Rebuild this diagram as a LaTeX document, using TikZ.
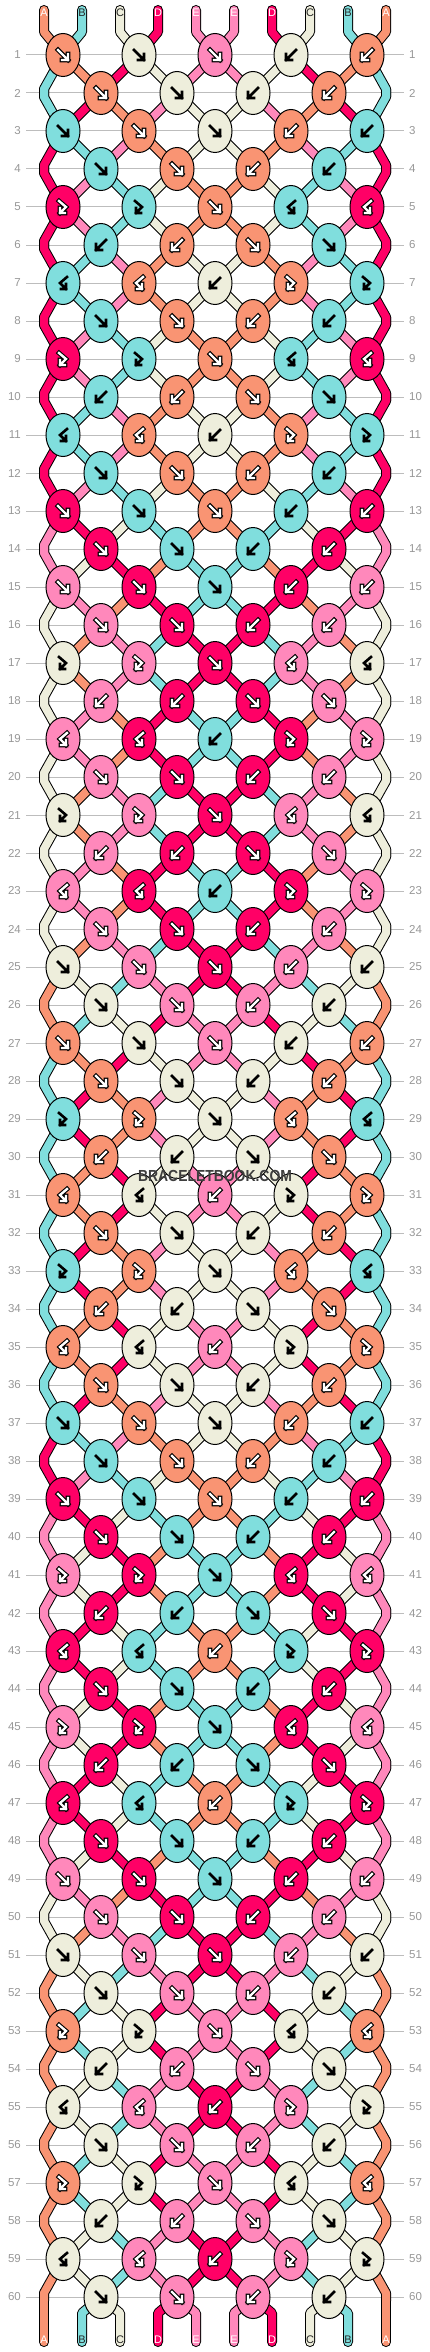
\documentclass[tikz,border=0pt]{standalone}
\usepackage{fontspec}
\setmainfont{Liberation Sans}
\usetikzlibrary{shapes.geometric}

\definecolor{colA}{HTML}{F99473}
\definecolor{colB}{HTML}{80DEDD}
\definecolor{colC}{HTML}{EEEEDC}
\definecolor{colD}{HTML}{FF0066}
\definecolor{colE}{HTML}{FF88BB}
\definecolor{rulegray}{HTML}{BDBDBD}
\definecolor{numgray}{HTML}{979797}
\definecolor{brandgray}{HTML}{3E3E3E}

% letter colour on each thread
\def\letterA{white}\def\letterB{black!85}\def\letterC{black!85}\def\letterD{white}\def\letterE{white}

\tikzset{
  knot/.style={ellipse, draw=black, line width=1pt, minimum width=34pt, minimum height=43pt, inner sep=0pt},
  strandedge/.style={draw=black, line width=10pt, line cap=round, line join=round},
  strand/.style={line width=8pt, line cap=round, line join=round},
  rowrule/.style={draw=rulegray, line width=1pt},
  rownum/.style={text=numgray, inner sep=0pt, font=\fontsize{11.5}{12}\selectfont},
  endletter/.style={inner sep=0pt, font=\fontsize{11}{11}\selectfont},
  brand/.style={text=brandgray, inner sep=0pt, font=\bfseries\fontsize{16}{16}\selectfont},
  rim/.style={draw=none},
  ink/.style={draw=black, line width=2.6pt, line cap=rect, line join=miter},
  darkarrow/.style={rim/.style={draw=black, line width=4.6pt, line cap=rect, line join=miter},
                    ink/.style={draw=white, line width=2.4pt, line cap=rect, line join=miter}},
  lightarrow/.style={},
  arrowsetA/.style={darkarrow}, arrowsetB/.style={lightarrow}, arrowsetC/.style={lightarrow},
  arrowsetD/.style={darkarrow}, arrowsetE/.style={darkarrow},
  % forward, backward, forward-backward, backward-forward
  pics/arrF/.style={code={
    \draw[rim] (-5,-5) -- (5,5) (-1,5) -- (5,5) -- (5,-1);
    \draw[ink] (-5,-5) -- (5,5) (-1,5) -- (5,5) -- (5,-1);}},
  pics/arrB/.style={code={
    \draw[rim] (5,-5) -- (-5,5) (1,5) -- (-5,5) -- (-5,-1);
    \draw[ink] (5,-5) -- (-5,5) (1,5) -- (-5,5) -- (-5,-1);}},
  pics/arrX/.style={code={
    \draw[rim] (-4,-6) -- (3,0) -- (-3,6) (-3,1) -- (-3,6) -- (2,6);
    \draw[ink] (-4,-6) -- (3,0) -- (-3,6) (-3,1) -- (-3,6) -- (2,6);}},
  pics/arrY/.style={code={
    \draw[rim] (4,-6) -- (-3,0) -- (3,6) (3,1) -- (3,6) -- (-2,6);
    \draw[ink] (4,-6) -- (-3,0) -- (3,6) (3,1) -- (3,6) -- (-2,6);}},
}

% knots of each row, left to right
\newcommand\knotrows{1/{F,F,F,B,B}, 2/{F,F,B,B}, 3/{F,F,F,B,B}, 4/{F,F,B,B},
  5/{X,X,F,Y,Y}, 6/{B,B,F,F}, 7/{Y,Y,B,X,X}, 8/{F,F,B,B}, 9/{X,X,F,Y,Y}, 10/{B,B,F,F},
  11/{Y,Y,B,X,X}, 12/{F,F,B,B}, 13/{F,F,F,B,B}, 14/{F,F,B,B}, 15/{F,F,F,B,B}, 16/{F,F,B,B},
  17/{X,X,F,Y,Y}, 18/{B,B,F,F}, 19/{Y,Y,B,X,X}, 20/{F,F,B,B}, 21/{X,X,F,Y,Y}, 22/{B,B,F,F},
  23/{Y,Y,B,X,X}, 24/{F,F,B,B}, 25/{F,F,F,B,B}, 26/{F,F,B,B}, 27/{F,F,F,B,B}, 28/{F,F,B,B},
  29/{X,X,F,Y,Y}, 30/{B,B,F,F}, 31/{Y,Y,B,X,X}, 32/{F,F,B,B}, 33/{X,X,F,Y,Y}, 34/{B,B,F,F},
  35/{Y,Y,B,X,X}, 36/{F,F,B,B}, 37/{F,F,F,B,B}, 38/{F,F,B,B}, 39/{F,F,F,B,B}, 40/{F,F,B,B},
  41/{X,X,F,Y,Y}, 42/{B,B,F,F}, 43/{Y,Y,B,X,X}, 44/{F,F,B,B}, 45/{X,X,F,Y,Y}, 46/{B,B,F,F},
  47/{Y,Y,B,X,X}, 48/{F,F,B,B}, 49/{F,F,F,B,B}, 50/{F,F,B,B}, 51/{F,F,F,B,B}, 52/{F,F,B,B},
  53/{X,X,F,Y,Y}, 54/{B,B,F,F}, 55/{Y,Y,B,X,X}, 56/{F,F,B,B}, 57/{X,X,F,Y,Y}, 58/{B,B,F,F},
  59/{Y,Y,B,X,X}, 60/{F,F,B,B}}

\newcommand\resetthreads{%
  \foreach \i/\lt in {1/A,2/B,3/C,4/D,5/E,6/E,7/D,8/C,9/B,10/A}{%
    \expandafter\xdef\csname s\i\endcsname{\lt}}}

% where thread #2 sits in row #1: \ptin and \ptout
\newcommand\strandpt[2]{%
  \ifnum#1=0 \edef\ptin{T-#2-in}\edef\ptout{T-#2-out}%
  \else\ifnum#1=61 \edef\ptin{U-#2-in}\edef\ptout{U-#2-out}%
  \else\ifodd#1 \pgfmathtruncatemacro\ptk{(#2+1)/2}\edef\ptin{K-#1-\ptk.center}\let\ptout\ptin
  \else\ifnum#2=1 \edef\ptin{P-#1-#2-in}\edef\ptout{P-#1-#2-out}%
  \else\ifnum#2=10 \edef\ptin{P-#1-#2-in}\edef\ptout{P-#1-#2-out}%
  \else \pgfmathtruncatemacro\ptk{#2/2}\edef\ptin{K-#1-\ptk.center}\let\ptout\ptin
  \fi\fi\fi\fi\fi}

% thread #4 from row #2 to row #3, in look #1
\newcommand\drawstrand[4]{%
  \strandpt{#2}{#4}\let\na\ptin\let\nb\ptout
  \strandpt{#3}{#4}%
  \edef\strandcmd{%
    \noexpand\draw[draw=col\csname s#4\endcsname, #1] (\na) -- (\nb) -- (\ptin) -- (\ptout);}%
  \strandcmd}

\newcommand\knotpos{%
  \ifodd\r
    \pgfmathtruncatemacro\posL{2*\k-1}\pgfmathtruncatemacro\kx{63+76*(\k-1)}%
  \else
    \pgfmathtruncatemacro\posL{2*\k}\pgfmathtruncatemacro\kx{101+76*(\k-1)}%
  \fi
  \pgfmathtruncatemacro\posR{\posL+1}%
  \edef\colL{\csname s\posL\endcsname}\edef\colR{\csname s\posR\endcsname}}

\newcommand\swapstrands{%
  \expandafter\xdef\csname s\posL\endcsname{\colR}%
  \expandafter\xdef\csname s\posR\endcsname{\colL}}

\begin{document}
\begin{tikzpicture}[x=1pt, y=-1pt]
\useasboundingbox (0,0) rectangle (430,2352);

% row numbers and rules
\foreach \r in {1,...,60}{
  \pgfmathtruncatemacro\yy{55+38*(\r-1)}
  \node[rownum, anchor=east] (numL-\r) at (21,\yy) {\r};
  \node[rownum, anchor=west] (numR-\r) at (409,\yy) {\r};
  \draw[rowrule] ([xshift=5pt]numL-\r.east) -- ([xshift=-5pt]numR-\r.west);
}

% ends of the threads
\foreach \i in {1,...,10}{
  \coordinate (T-\i-in) at ({44+38*(\i-1)},10);
  \coordinate (T-\i-out) at ({44+38*(\i-1)},32);
  \coordinate (U-\i-in) at ({44+38*(\i-1)},2313);
  \coordinate (U-\i-out) at ({44+38*(\i-1)},2342);
}

% knot places and edge turns
\foreach \r/\spec in \knotrows{
  \pgfmathtruncatemacro\yy{55+38*(\r-1)}
  \ifodd\r\else
    \coordinate (P-\r-1-in) at (44,\yy-4);
    \coordinate (P-\r-1-out) at (44,\yy+4);
    \coordinate (P-\r-10-in) at (386,\yy-4);
    \coordinate (P-\r-10-out) at (386,\yy+4);
  \fi
  \foreach \kt [count=\k] in \spec{
    \ifodd\r\pgfmathtruncatemacro\kx{63+76*(\k-1)}\else\pgfmathtruncatemacro\kx{101+76*(\k-1)}\fi
    \coordinate (K-\r-\k) at (\kx,\yy);
  }
}

% threads: outline first, then colour
\foreach \look in {strandedge,strand}{
  \resetthreads
  \foreach \r/\spec in \knotrows{
    \pgfmathtruncatemacro\prevrow{\r-1}
    \foreach \i in {1,...,10}{\drawstrand{\look}{\prevrow}{\r}{\i}}
    \foreach \kt [count=\k] in \spec{
      \knotpos
      \if\kt F\swapstrands\fi
      \if\kt B\swapstrands\fi
    }
  }
  \foreach \i in {1,...,10}{\drawstrand{\look}{60}{61}{\i}}
}

% knots
\resetthreads
\foreach \r/\spec in \knotrows{
  \pgfmathtruncatemacro\yy{55+38*(\r-1)}
  \foreach \kt [count=\k] in \spec{
    \knotpos
    \let\kc\colL
    \if\kt B\let\kc\colR\fi
    \if\kt Y\let\kc\colR\fi
    \edef\knotcmd{\noexpand\node[knot, fill=col\kc] (K-\r-\k) at (\kx,\yy) {};
      \noexpand\pic[arrowset\kc] at (\kx,\yy) {arr\kt};}
    \knotcmd
  }
  \foreach \kt [count=\k] in \spec{
    \knotpos
    \if\kt F\swapstrands\fi
    \if\kt B\swapstrands\fi
  }
}

% thread letters
\foreach \i/\lt in {1/A,2/B,3/C,4/D,5/E,6/E,7/D,8/C,9/B,10/A}{
  \edef\lettercmd{\noexpand\node[endletter, text=\csname letter\lt\endcsname] (top-\i) at ({44+38*(\i-1)},13) {\lt};
    \noexpand\node[endletter, text=\csname letter\lt\endcsname] (bot-\i) at ({44+38*(\i-1)},2340) {\lt};}
  \lettercmd
}

\node[brand] (mark) at (215,1176) {\scalebox{0.87}[1]{BRACELETBOOK.COM}};
\end{tikzpicture}
\end{document}
